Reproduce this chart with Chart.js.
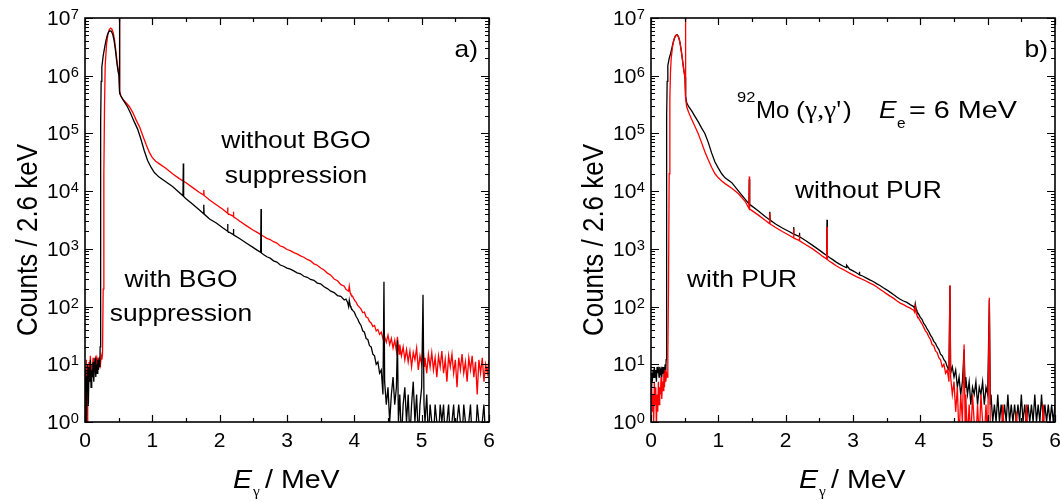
<!DOCTYPE html>
<html>
<head>
<meta charset="utf-8">
<script src="https://cdn.jsdelivr.net/npm/chart.js@4.4.1/dist/chart.umd.min.js"></script>
<style>
  html, body { margin: 0; padding: 0; background: #fff; }
  #wrap { position: relative; width: 1061px; height: 502px; }
  #wrap canvas { position: absolute; left: 0; top: 0; }
</style>
</head>
<body>
<div id="wrap">
  <canvas id="panelA" width="1061" height="502"></canvas>
  <canvas id="panelB" width="1061" height="502"></canvas>
</div>
<script>
// ---- axis ticks ----
const xTickLabels = [0, 1, 2, 3, 4, 5, 6];
const xTickMarks = [0, 0.5, 1, 1.5, 2, 2.5, 3, 3.5, 4, 4.5, 5, 5.5, 6];
const yExponents = [0, 1, 2, 3, 4, 5, 6, 7];

// ---- panel a) : [E (MeV), counts] ----
const aWithBGO = [
  [0.00,3],[0.01,8],[0.02,1],[0.03,6],[0.04,10],[0.05,2],[0.06,9],[0.07,5],[0.08,12],[0.09,4],[0.10,8],[0.11,6],
  [0.12,11],[0.13,5],[0.14,9],[0.15,13],[0.16,6],[0.17,10],[0.18,7],[0.19,12],[0.20,8],[0.21,11],[0.22,9],
  [0.225,20],[0.23,2000],[0.235,1.5e5],[0.24,8e5],[0.25,1.4e6],[0.27,2.2e6],[0.29,3e6],[0.31,4e6],[0.33,5e6],
  [0.35,5.7e6],[0.37,6e6],[0.39,5.9e6],[0.41,5.3e6],[0.43,4.2e6],[0.45,2.9e6],[0.47,1.8e6],[0.49,1.2e6],
  [0.505,1.0e6],[0.511,2e7],[0.517,5e5],[0.53,4.5e5],[0.58,3.6e5],[0.63,2.9e5],[0.68,2.2e5],[0.73,1.6e5],
  [0.78,1.2e5],[0.83,8e4],[0.88,5e4],[0.93,3.4e4],[0.98,2.6e4],[1.03,2.1e4],[1.10,1.75e4],[1.20,1.45e4],
  [1.30,1.2e4],[1.40,9.5e3],[1.455,8.3e3],[1.46,3e4],[1.465,8.1e3],[1.50,7.4e3],[1.60,5.9e3],[1.70,4.7e3],
  [1.759,4.1e3],[1.764,5.8e3],[1.769,4.0e3],[1.85,3.3e3],[1.95,2.8e3],[2.05,2.3e3],[2.113,2.05e3],[2.118,2.7e3],
  [2.123,2.0e3],[2.199,1.78e3],[2.204,2.2e3],[2.209,1.75e3],[2.30,1.5e3],[2.40,1.25e3],[2.50,1.05e3],[2.55,960],
  [2.609,870],[2.614,4.9e3],[2.619,850],[2.65,800],[2.70,730],[2.75,690],[2.80,620],[2.85,590],[2.90,525],
  [2.95,500],[3.00,465],[3.05,445],[3.10,415],[3.15,385],[3.20,370],[3.25,335],[3.30,322],[3.35,295],[3.40,285],
  [3.45,255],[3.50,248],[3.55,220],[3.60,205],[3.65,185],[3.70,175],[3.75,155],[3.80,150],[3.85,130],[3.875,135],
  [3.900,118],[3.915,100],[3.925,128],[3.940,102],[3.950,96],[3.975,86],[4.000,80],[4.025,68],[4.050,61],[4.075,52],
  [4.100,47],[4.125,38],[4.150,36],[4.175,28],[4.200,27],[4.225,21],[4.250,20],[4.275,15],[4.300,14],[4.325,10],
  [4.350,11],[4.375,7],[4.400,8],[4.425,3],[4.440,270],[4.450,5],[4.475,2],[4.500,4],[4.525,1],[4.550,3],[4.575,6],
  [4.600,2],[4.625,4],[4.640,26],[4.655,1],[4.675,3],[4.700,0.5],[4.725,2],[4.750,4],[4.775,1],[4.800,3],[4.825,0.5],
  [4.850,2],[4.875,5],[4.900,1],[4.925,3],[4.950,0.5],[4.975,2],[5.000,4],[5.020,160],[5.035,2],[5.050,1],[5.075,3],
  [5.100,0.5],[5.125,2],[5.150,1],[5.175,0.5],[5.200,2],[5.225,1],[5.250,0.5],[5.275,2],[5.300,1],[5.325,2],
  [5.350,0.5],[5.375,1],[5.400,2],[5.425,0.5],[5.450,1],[5.475,2],[5.500,0.5],[5.525,1],[5.550,2],[5.575,1],
  [5.600,0.5],[5.625,2],[5.650,1],[5.675,0.5],[5.700,1],[5.725,2],[5.750,0.5],[5.775,1],[5.800,0.5],[5.825,2],
  [5.850,1],[5.875,0.5],[5.900,1],[5.925,2],[5.950,0.5],[5.975,1],[6.000,1]
];
const aWithoutBGO = [
  [0.00,1],[0.01,6],[0.02,12],[0.03,0.5],[0.04,8],[0.05,4],[0.06,11],[0.07,7],[0.08,14],[0.09,6],[0.10,10],[0.11,8],
  [0.12,13],[0.13,7],[0.14,11],[0.15,9],[0.16,14],[0.17,8],[0.18,12],[0.19,10],[0.20,13],[0.21,9],[0.22,12],
  [0.23,10],[0.24,14],[0.25,12],[0.26,15],[0.27,200],[0.28,2e4],[0.29,3e5],[0.30,1.5e6],[0.32,3.5e6],[0.34,5.2e6],
  [0.36,6.3e6],[0.38,6.7e6],[0.40,6.4e6],[0.42,5.5e6],[0.44,4e6],[0.46,2.6e6],[0.48,1.6e6],[0.50,1.15e6],
  [0.505,1.05e6],[0.511,2e7],[0.517,5.5e5],[0.53,4.6e5],[0.56,3.9e5],[0.61,3.4e5],[0.66,2.9e5],[0.71,2.3e5],
  [0.76,1.7e5],[0.81,1.3e5],[0.86,9e4],[0.91,6.3e4],[0.96,4.6e4],[1.00,3.8e4],[1.05,3.3e4],[1.10,3.0e4],
  [1.20,2.5e4],[1.30,2.0e4],[1.40,1.65e4],[1.50,1.4e4],[1.60,1.15e4],[1.70,9.5e3],[1.759,8.6e3],[1.764,1.05e4],
  [1.769,8.4e3],[1.85,7.0e3],[1.95,5.8e3],[2.05,4.8e3],[2.113,4.2e3],[2.118,5.2e3],[2.123,4.1e3],[2.199,3.7e3],
  [2.204,4.4e3],[2.209,3.6e3],[2.30,3.0e3],[2.40,2.5e3],[2.50,2.1e3],[2.55,1.95e3],[2.60,1.8e3],[2.65,1.65e3],
  [2.70,1.52e3],[2.75,1.45e3],[2.80,1.33e3],[2.85,1.26e3],[2.90,1.12e3],[2.95,1.07e3],[3.00,975],[3.05,930],
  [3.10,860],[3.15,820],[3.20,755],[3.25,715],[3.30,655],[3.35,620],[3.40,550],[3.45,520],[3.50,465],[3.55,430],
  [3.60,380],[3.65,350],[3.70,300],[3.75,280],[3.80,240],[3.85,225],[3.875,200],
  [3.900,190],[3.915,185],[3.925,225],[3.940,170],[3.950,160],[3.975,150],[4.000,130],[4.025,120],[4.050,105],
  [4.075,98],[4.100,90],[4.125,78],[4.150,80],[4.175,66],[4.200,64],[4.225,55],[4.250,52],[4.275,45],[4.300,47],
  [4.325,38],[4.350,40],[4.375,33],[4.400,36],[4.425,28],[4.440,34],[4.450,30],[4.475,24],[4.500,32],[4.525,22],
  [4.550,28],[4.575,19],[4.600,26],[4.625,17],[4.640,30],[4.665,15],[4.675,22],[4.700,14],[4.725,20],[4.750,12],
  [4.775,18],[4.800,11],[4.825,17],[4.850,9],[4.875,16],[4.900,12],[4.925,19],[4.950,8],[4.975,14],[5.000,10],
  [5.020,20],[5.040,9],[5.050,13],[5.075,7],[5.100,15],[5.125,9],[5.150,16],[5.175,8],[5.200,13],[5.225,6],
  [5.250,14],[5.275,9],[5.300,17],[5.325,7],[5.350,12],[5.375,5],[5.400,14],[5.425,9],[5.450,15],[5.475,7],
  [5.500,12],[5.525,4],[5.550,13],[5.575,8],[5.600,15],[5.625,7],[5.650,11],[5.675,5],[5.700,13],[5.725,8],
  [5.750,14],[5.775,6],[5.800,11],[5.825,3],[5.850,12],[5.875,7],[5.900,13],[5.925,5],[5.950,10],[5.975,7],[6.000,12]
];

// ---- panel b) ----
const bWithoutPUR = [
  [0.00,4],[0.01,7],[0.02,5],[0.03,8],[0.04,6],[0.05,9],[0.06,6],[0.07,8],[0.08,5],[0.09,9],[0.10,7],[0.11,8],
  [0.12,6],[0.13,9],[0.14,7],[0.15,8],[0.16,6],[0.17,9],[0.18,7],[0.19,9],[0.20,7],[0.21,10],[0.22,8],
  [0.225,12],[0.23,3e3],[0.235,2e5],[0.24,8e5],[0.25,1.5e6],[0.27,2e6],[0.29,2.4e6],[0.31,3e6],[0.33,3.8e6],
  [0.35,4.5e6],[0.37,5e6],[0.39,5.1e6],[0.41,4.7e6],[0.43,3.8e6],[0.45,2.7e6],[0.47,1.8e6],[0.49,1.2e6],
  [0.505,9.5e5],[0.511,9e5],[0.517,4.5e5],[0.53,3.4e5],[0.56,2.9e5],[0.60,2.5e5],[0.65,2.0e5],[0.70,1.6e5],
  [0.75,1.25e5],[0.80,1e5],[0.85,7e4],[0.90,4.6e4],[0.95,3.2e4],[1.00,2.5e4],[1.05,2.0e4],[1.10,1.7e4],
  [1.20,1.4e4],[1.30,1.0e4],[1.40,7.2e3],[1.455,6.0e3],[1.46,1.6e4],[1.465,5.9e3],[1.50,5.5e3],[1.60,4.5e3],
  [1.70,3.6e3],[1.759,3.2e3],[1.764,4.4e3],[1.769,3.15e3],[1.85,2.7e3],[1.95,2.3e3],[2.05,2.0e3],[2.113,1.82e3],
  [2.118,2.4e3],[2.123,1.8e3],[2.199,1.65e3],[2.204,1.9e3],[2.209,1.62e3],[2.30,1.38e3],[2.40,1.15e3],[2.50,950],
  [2.55,860],[2.609,770],[2.614,3.2e3],[2.619,760],[2.65,710],[2.70,650],[2.75,590],[2.80,545],[2.85,505],
  [2.90,475],[2.905,520],[2.95,445],[3.00,415],[3.05,385],[3.09,360],[3.095,400],[3.10,355],[3.15,335],[3.20,312],
  [3.25,290],[3.30,272],[3.35,250],[3.40,232],[3.45,212],[3.50,195],[3.55,178],[3.60,162],[3.65,146],[3.70,134],
  [3.75,125],[3.80,118],[3.85,108],[3.875,104],
  [3.900,100],[3.915,92],[3.925,112],[3.940,88],[3.950,82],[3.975,74],[4.000,65],[4.025,60],[4.050,51],[4.075,47],
  [4.100,41],[4.125,37],[4.150,32],[4.175,29],[4.200,25],[4.225,23],[4.250,20],[4.275,18],[4.300,15],[4.325,14],
  [4.350,12],[4.375,11],[4.400,9],[4.425,8],[4.440,230],[4.450,7],[4.475,9],[4.500,6],[4.525,8],[4.550,4],
  [4.575,6],[4.600,3],[4.625,5],[4.650,18],[4.665,4],[4.675,6],[4.700,3],[4.725,5],[4.750,2],[4.775,4],[4.800,3],
  [4.825,5],[4.850,2],[4.875,4],[4.900,3],[4.925,5],[4.950,2],[4.975,4],[5.000,3],[5.025,130],[5.040,2],[5.050,3],
  [5.075,1],[5.100,2],[5.125,1],[5.150,3],[5.175,1],[5.200,2],[5.225,1],[5.250,2],[5.275,1],[5.300,3],[5.325,1],
  [5.350,2],[5.375,1],[5.400,2],[5.425,1],[5.450,2],[5.475,1],[5.500,3],[5.525,1],[5.550,2],[5.575,1],[5.600,2],
  [5.625,1],[5.650,2],[5.675,1],[5.700,3],[5.725,1],[5.750,2],[5.775,1],[5.800,3],[5.825,1],[5.850,2],[5.875,1],
  [5.900,2],[5.925,1],[5.950,2],[5.975,1],[6.000,2]
];
const bWithPUR = [
  [0.00,2],[0.01,4],[0.02,1.5],[0.03,3],[0.04,1],[0.05,5],[0.06,2],[0.07,4],[0.08,0.8],[0.09,3],[0.10,1.5],[0.11,5],
  [0.12,2],[0.13,4],[0.14,3],[0.15,6],[0.16,2.5],[0.17,5],[0.18,3.5],[0.19,7],[0.20,4],[0.21,8],[0.22,5],[0.23,7],
  [0.24,6],[0.25,15],[0.26,200],[0.27,2e4],[0.28,4e5],[0.29,1.2e6],[0.30,2e6],[0.32,3.2e6],[0.34,4.2e6],
  [0.36,4.9e6],[0.38,5.1e6],[0.40,4.9e6],[0.42,4.2e6],[0.44,3.2e6],[0.46,2.2e6],[0.48,1.4e6],[0.50,1e6],
  [0.505,9e5],[0.511,2e7],[0.517,4e5],[0.53,2.9e5],[0.56,2.3e5],[0.60,1.8e5],[0.65,1.35e5],[0.70,1.0e5],
  [0.75,7e4],[0.80,4.8e4],[0.85,3.5e4],[0.90,2.6e4],[0.95,2.0e4],[1.00,1.7e4],[1.05,1.5e4],[1.10,1.35e4],
  [1.20,1.12e4],[1.30,9e3],[1.40,6.6e3],[1.455,5.0e3],[1.46,1.8e4],[1.465,4.9e3],[1.50,4.6e3],[1.60,3.8e3],
  [1.70,3.1e3],[1.759,2.75e3],[1.764,4.2e3],[1.769,2.7e3],[1.85,2.35e3],[1.95,2.0e3],[2.05,1.72e3],[2.113,1.56e3],
  [2.118,2.2e3],[2.123,1.54e3],[2.199,1.4e3],[2.204,1.7e3],[2.209,1.38e3],[2.30,1.18e3],[2.40,1.0e3],[2.50,820],
  [2.55,740],[2.609,665],[2.614,2.4e3],[2.619,655],[2.65,610],[2.70,560],[2.75,510],[2.80,470],[2.85,440],
  [2.90,410],[2.95,380],[3.00,355],[3.05,330],[3.10,312],[3.15,292],[3.20,275],[3.25,255],[3.30,240],[3.35,220],
  [3.40,200],[3.45,182],[3.50,166],[3.55,152],[3.60,140],[3.65,126],[3.70,115],[3.75,108],[3.80,100],[3.85,94],
  [3.875,90],
  [3.900,87],[3.915,80],[3.925,100],[3.940,76],[3.950,70],[3.975,63],[4.000,56],[4.025,50],[4.050,44],[4.075,38],
  [4.100,35],[4.125,30],[4.150,27],[4.175,22],[4.200,21],[4.225,17],[4.250,16],[4.275,13],[4.300,12],[4.325,9],
  [4.350,10],[4.375,7],[4.400,8],[4.425,5],[4.440,235],[4.450,6],[4.475,3],[4.500,5],[4.525,1.5],[4.550,4],
  [4.575,0.5],[4.600,3],[4.625,1],[4.650,22],[4.665,1],[4.675,3],[4.700,0.5],[4.725,2],[4.750,0.5],[4.775,3],
  [4.800,1],[4.825,0.5],[4.850,2],[4.875,0.5],[4.900,3],[4.925,1],[4.950,0.5],[4.975,2],[5.000,0.5],[5.025,142],
  [5.040,0.5],[5.075,0.5],[5.100,0.5],[5.150,0.5],[5.200,0.5],[5.225,2],[5.250,0.5],[5.300,0.5],[5.350,0.5],
  [5.400,0.5],[5.425,1.5],[5.450,0.5],[5.500,0.5],[5.550,0.5],[5.575,2],[5.600,0.5],[5.650,0.5],[5.700,0.5],
  [5.750,0.5],[5.800,0.5],[5.825,2],[5.850,0.5],[5.900,0.5],[5.950,0.5],[6.000,0.5]
];

const SANS = '"Liberation Sans", Arial, Helvetica, sans-serif';
const SERIF = '"Liberation Serif", "Times New Roman", serif';
const SX = 1.1;   // the original figure is a little wider than tall

function txt(ctx, s, x, y, size, o = {}) {
  ctx.save();
  ctx.font = (o.italic ? 'italic ' : '') + size + 'px ' + (o.serif ? SERIF : SANS);
  ctx.textAlign = o.align || 'left';
  ctx.textBaseline = 'alphabetic';
  ctx.fillStyle = '#000';
  ctx.translate(x, y);
  if (o.rot) { ctx.rotate(o.rot); ctx.scale(1, o.sx || SX); }
  else ctx.scale(o.sx || SX, 1);
  ctx.fillText(s, 0, 0);
  ctx.restore();
}

function txtWidth(ctx, s, size, o = {}) {
  ctx.save();
  ctx.font = (o.italic ? 'italic ' : '') + size + 'px ' + (o.serif ? SERIF : SANS);
  const w = ctx.measureText(s).width * (o.sx || SX);
  ctx.restore();
  return w;
}

// frame, inward ticks, labels and notes
function axesPlugin(notes) {
  return {
    id: 'axesPlugin',
    afterDatasetsDraw(chart) {
      const { ctx, chartArea: ca, scales: { x, y } } = chart;
      ctx.save();
      ctx.strokeStyle = '#000';
      ctx.lineWidth = 1.2;
      ctx.beginPath();
      xTickMarks.forEach(v => {
        const px = Math.round(x.getPixelForValue(v)) + 0.5;
        const len = Number.isInteger(v) ? 7 : 4;
        ctx.moveTo(px, ca.bottom); ctx.lineTo(px, ca.bottom - len);
        ctx.moveTo(px, ca.top); ctx.lineTo(px, ca.top + len);
      });
      yExponents.forEach(e => {
        for (let m = 1; m < 10; m++) {
          if (e === 7 && m > 1) break;
          const py = Math.round(y.getPixelForValue(m * Math.pow(10, e))) + 0.5;
          const len = m === 1 ? 8 : 4;
          ctx.moveTo(ca.left, py); ctx.lineTo(ca.left + len, py);
          ctx.moveTo(ca.right, py); ctx.lineTo(ca.right - len, py);
        }
      });
      ctx.stroke();
      ctx.lineWidth = 1.6;
      ctx.strokeRect(ca.left, ca.top, ca.right - ca.left, ca.bottom - ca.top);
      ctx.restore();

      // tick labels
      const tk = { sx: 1.05 };
      xTickLabels.forEach(v => txt(ctx, String(v), x.getPixelForValue(v), ca.bottom + 25, 20, { ...tk, align: 'center' }));
      yExponents.forEach(e => {
        const py = y.getPixelForValue(Math.pow(10, e));
        const right = ca.left - 6;
        const ew = txtWidth(ctx, String(e), 14, tk);
        txt(ctx, String(e), right, py + 1, 14, { ...tk, align: 'right' });
        txt(ctx, '10', right - ew - 0.5, py + 7, 20, { ...tk, align: 'right' });
      });

      // axis titles
      txt(ctx, 'Counts / 2.6 keV', ca.left - 48.5, ca.top + 222, 26, { align: 'center', rot: -Math.PI / 2 });
      const ex = ca.left + 148, ey = ca.bottom + 66;
      txt(ctx, 'E', ex, ey, 26, { italic: true });
      txt(ctx, 'γ', ex + txtWidth(ctx, 'E', 26, { italic: true }) + 1, ey + 8, 14, { serif: true });
      txt(ctx, '/ MeV', ca.left + 180, ey, 26);

      // panel notes
      notes.forEach(n => txt(ctx, n.t, n.x, n.y, n.size || 24, n));
    }
  };
}

const toXY = pairs => pairs.map(([x, y]) => ({ x, y }));

function makePanel(id, padLeft, padRight, series, notes) {
  return new Chart(document.getElementById(id), {
    type: 'line',
    data: {
      datasets: series.map(s => ({
        data: toXY(s.data), borderColor: s.color, borderWidth: 1.3,
        pointRadius: 0, tension: 0, fill: false
      }))
    },
    options: {
      responsive: false, animation: false, events: [],
      layout: { padding: { left: padLeft, right: padRight, top: 18, bottom: 80 } },
      plugins: { legend: { display: false }, tooltip: { enabled: false } },
      scales: {
        x: { type: 'linear', min: 0, max: 6, display: false },
        y: { type: 'logarithmic', min: 1, max: 1e7, display: false }
      }
    },
    plugins: [axesPlugin(notes)]
  });
}

// first dataset is drawn on top
makePanel('panelA', 85, 1061 - 489, [
  { data: aWithBGO, color: '#000000' },
  { data: aWithoutBGO, color: '#ff0000' }
], [
  { t: 'a)', x: 478, y: 57, align: 'right' },
  { t: 'without BGO', x: 296, y: 148, align: 'center' },
  { t: 'suppression', x: 296, y: 183, align: 'center' },
  { t: 'with BGO', x: 181, y: 287, align: 'center' },
  { t: 'suppression', x: 181, y: 321, align: 'center' }
]);

makePanel('panelB', 651, 1061 - 1055, [
  { data: bWithPUR, color: '#ff0000' },
  { data: bWithoutPUR, color: '#000000' }
], [
  { t: 'b)', x: 1048, y: 57, align: 'right' },
  { t: '92', x: 737, y: 102, size: 15 },
  { t: 'Mo', x: 756, y: 118, sx: 1.0 },
  { t: '(', x: 796, y: 118 },
  { t: 'γ,γ\'', x: 805, y: 118, serif: true, size: 25 },
  { t: ')', x: 843, y: 118 },
  { t: 'E', x: 879, y: 118, italic: true },
  { t: 'e', x: 897, y: 128, size: 14 },
  { t: '= 6 MeV', x: 909, y: 118, sx: 1.2 },
  { t: 'without PUR', x: 795, y: 198 },
  { t: 'with PUR', x: 687, y: 287 }
]);
</script>
</body>
</html>
